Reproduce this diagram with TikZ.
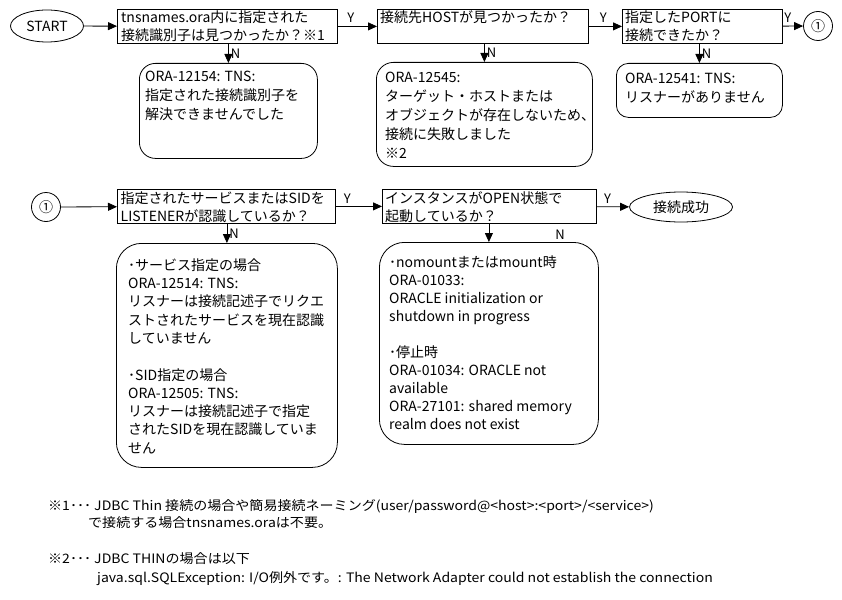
\documentclass[tikz,border=0pt]{standalone}
\usepackage{fontspec}
\setmainfont{Noto Sans CJK JP}
\usetikzlibrary{arrows.meta,shapes.geometric}
\begin{document}
\begin{tikzpicture}[x=1pt,y=-1pt,
  every node/.style={inner sep=0pt},
  sbox/.style={draw, line width=0.8pt, anchor=north west, inner sep=0pt},
  rbox/.style={draw, line width=0.8pt, anchor=north west, inner sep=0pt},
  oval/.style={draw, ellipse, line width=0.8pt, inner sep=0pt, font=\fontsize{14}{16}\selectfont},
  conn/.style={draw, circle, line width=0.8pt, inner sep=0pt, minimum size=29pt, font=\fontsize{14}{16}\selectfont},
  arr/.style={line width=0.8pt, -{Triangle[length=9pt,width=8pt]}},
  txt/.style={anchor=north west, align=left, inner sep=0pt, font=\fontsize{14}{18}\selectfont},
  rtxt/.style={anchor=north west, align=left, inner sep=0pt, font=\fontsize{14}{19}\selectfont},
  ltxt/.style={anchor=north west, align=left, inner sep=0pt, font=\fontsize{14}{18.3}\selectfont},
  yn/.style={font=\fontsize{13}{15}\selectfont},
  fn/.style={anchor=base west, inner sep=0pt, font=\fontsize{13}{15}\selectfont}
]
\useasboundingbox (0,0) rectangle (842,599);

% row 1
\node[oval, minimum width=73pt, minimum height=32pt] (start) at (47,26) {START};
\node[sbox, minimum width=220pt, minimum height=34pt] (b1) at (117,9) {};
\node[sbox, minimum width=211pt, minimum height=34pt] (b2) at (377,9) {};
\node[sbox, minimum width=160pt, minimum height=34pt] (b3) at (622,9) {};
\node[conn] (c1) at (818,26) {①};

\node[txt] (b1t) at (121,9.5) {\strut tnsnames.ora内に指定された\\接続識別子は見つかったか？※1};
\node[txt] (b2t) at (380,9.5) {\strut 接続先HOSTが見つかったか？};
\node[txt] (b3t) at (625,9.5) {\strut 指定したPORTに\\接続できたか？};

\node[rbox, rounded corners=16pt, minimum width=178pt, minimum height=95pt] (r1) at (139,63) {};
\node[rbox, rounded corners=17pt, minimum width=216pt, minimum height=104pt] (r2) at (376,62) {};
\node[rbox, rounded corners=12pt, minimum width=166pt, minimum height=54pt] (r3) at (616,63) {};

\node[rtxt] (r1t) at (145,67.7) {\strut ORA-12154: TNS:\\指定された接続識別子を\\解決できませんでした};
\node[rtxt] (r2t) at (385,68.7) {\strut ORA-12545:\\ターゲット・ホストまたは\\オブジェクトが存在しないため、\\接続に失敗しました\\※2};
\node[rtxt] (r3t) at (625,69.7) {\strut ORA-12541: TNS:\\リスナーがありません};

\draw[arr] (start) -- (b1);
\draw[arr] (b1) -- (b2) node[yn, pos=0.33, above=3pt] (y1) {Y};
\draw[arr] (b2) -- (b3) node[yn, pos=0.44, above=3pt] (y2) {Y};
\draw[arr] (b3) -- (c1) node[yn, pos=0.25, above=3pt] (y3) {Y};
\draw[arr] (r1.north |- b1.south) -- (r1.north) node[yn, pos=0.5, right=2pt] (n1) {N};
\draw[arr] (r2.north |- b2.south) -- (r2.north) node[yn, pos=0.5, right=2pt] (n2) {N};
\draw[arr] (r3.north |- b3.south) -- (r3.north) node[yn, pos=0.5, right=2pt] (n3) {N};

% row 2
\node[conn] (c2) at (46,207) {①};
\node[sbox, minimum width=218pt, minimum height=34pt] (b4) at (117,189) {};
\node[sbox, minimum width=214pt, minimum height=34pt] (b5) at (382,189) {};
\node[oval, minimum width=103pt, minimum height=30pt] (ok) at (681,207) {接続成功};

\node[txt] (b4t) at (120.5,190.4) {\strut 指定されたサービスまたはSIDを\\LISTENERが認識しているか？};
\node[txt] (b5t) at (385,190.4) {\strut インスタンスがOPEN状態で\\起動しているか？};

\node[rbox, rounded corners=25pt, minimum width=221pt, minimum height=224pt] (r4) at (116,243) {};
\node[rbox, rounded corners=25pt, minimum width=219pt, minimum height=202pt] (r5) at (379,242) {};

\node[ltxt] (r4t) at (128,257.2) {\strut ･サービス指定の場合\\ORA-12514: TNS:\\リスナーは接続記述子でリクエ\\ストされたサービスを現在認識\\していません\\[18.3pt]･SID指定の場合\\ORA-12505: TNS:\\リスナーは接続記述子で指定\\されたSIDを現在認識していま\\せん};
\node[ltxt, font=\fontsize{14}{18}\selectfont] (r5t) at (389,254.4) {\strut ･nomountまたはmount時\\ORA-01033:\\ORACLE initialization or\\shutdown in progress\\[18pt]･停止時\\ORA-01034: ORACLE not\\available\\ORA-27101: shared memory\\realm does not exist};

\draw[arr] (c2) -- (b4);
\draw[arr] (b4) -- (b5) node[yn, pos=0.25, above=3pt] (y4) {Y};
\draw[arr] (b5) -- (ok) node[yn, pos=0.33, above=3pt] (y5) {Y};
\draw[arr] (r4.north |- b4.south) -- (r4.north) node[yn, pos=0.5, right=2pt] (n4) {N};
\draw[arr] (r5.north |- b5.south) -- (r5.north) node[yn, pos=0.6, right=66pt] (n5) {N};

% footnotes
\node[fn] (f1) at (48,510) {\scalebox{1.08}[1]{※1･･･ JDBC Thin 接続の場合や簡易接続ネーミング(user/password@<host>:<port>/<service>)}};
\node[fn] (f2) at (88,527) {\scalebox{1.08}[1]{で接続する場合tnsnames.oraは不要。}};
\node[fn] (f3) at (48,563) {\scalebox{1.08}[1]{※2･･･ JDBC THINの場合は以下}};
\node[fn] (f4) at (97,582) {\scalebox{1.08}[1]{java.sql.SQLException: I/O例外です。: The Network Adapter could not establish the connection}};
\end{tikzpicture}
\end{document}
